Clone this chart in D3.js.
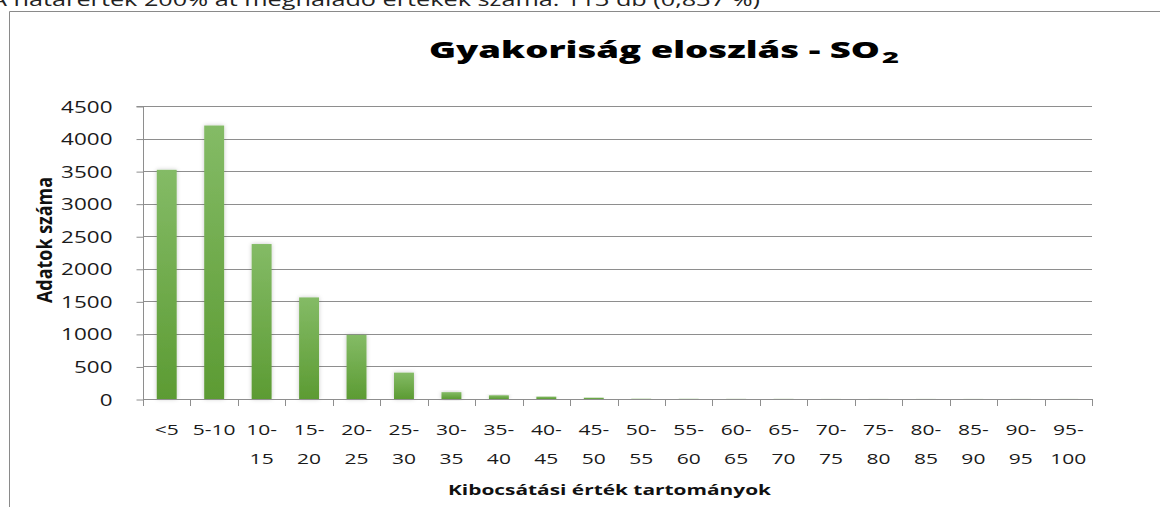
<!DOCTYPE html>
<html><head><meta charset="utf-8">
<script src="https://cdn.jsdelivr.net/npm/d3@7"></script>
<style>
html,body{margin:0;padding:0;background:#fff;overflow:hidden;}
svg{display:block;}
</style></head>
<body>
<svg id="chart" width="1160" height="507"></svg>
<script>
const categories = ["<5","5-10","10-15","15-20","20-25","25-30","30-35","35-40","40-45","45-50","50-55","55-60","60-65","65-70","70-75","75-80","80-85","85-90","90-95","95-100"];
const categoryLines = [["<5"],["5-10"],["10-","15"],["15-","20"],["20-","25"],["25-","30"],["30-","35"],["35-","40"],["40-","45"],["45-","50"],["50-","55"],["55-","60"],["60-","65"],["65-","70"],["70-","75"],["75-","80"],["80-","85"],["85-","90"],["90-","95"],["95-","100"]];
const counts = [3520,4200,2380,1560,985,405,105,57,36,20,4,3,2,2,1,1,1,1,1,1];
const yTicks = [0,500,1000,1500,2000,2500,3000,3500,4000,4500];
const titleText = "Gyakoriság eloszlás - SO";
const titleSub = "2";
const noteText = "A határérték 200% át meghaladó értékek száma: 113 db (0,837 %)";
const yTitle = "Adatok száma";
const xTitle = "Kibocsátási  érték tartományok";

(function(){
const svg = d3.select("#chart");
const FONT = "'Open Sans', 'DejaVu Sans', sans-serif";
const SX = 1.45;
const gridColor = "#8e8e8e";

const defs = svg.append("defs");
const grad = defs.append("linearGradient").attr("id","barGrad").attr("x1",0).attr("y1",0).attr("x2",0).attr("y2",1);
grad.append("stop").attr("offset","0%").attr("stop-color","#84bb66");
grad.append("stop").attr("offset","100%").attr("stop-color","#5c9b33");
const f = defs.append("filter").attr("id","shadow").attr("x","-50%").attr("y","-20%").attr("width","200%").attr("height","140%");
f.append("feDropShadow").attr("dx",0).attr("dy",0).attr("stdDeviation",2.2).attr("flood-color","#000").attr("flood-opacity",0.22);

// note text at top (clipped by the page edge, as in the source)
svg.append("text").attr("x",-9).attr("y",5.5)
  .attr("font-family",FONT).attr("font-size",18).attr("fill","#222")
  .attr("textLength",769).attr("lengthAdjust","spacingAndGlyphs")
  .text(noteText);

// frame
svg.append("path").attr("d","M9.5,507 V11.5 H1160").attr("fill","none").attr("stroke","#8a8a8a").attr("stroke-width",1);

// title
svg.append("text").attr("x",429).attr("y",58)
  .attr("font-family",FONT).attr("font-weight",800).attr("font-size",23.5).attr("fill","#000")
  .attr("textLength",451).attr("lengthAdjust","spacingAndGlyphs").text(titleText);
svg.append("text").attr("x",882).attr("y",63)
  .attr("font-family",FONT).attr("font-weight",800).attr("font-size",15).attr("fill","#000")
  .attr("textLength",17).attr("lengthAdjust","spacingAndGlyphs").text(titleSub);

const pLeft = 143, pRight = 1092, pTop = 106, pBottom = 399;
const y = d3.scaleLinear().domain([0,4500]).range([pBottom, pTop]);
const x = d3.scaleBand().domain(categories).range([pLeft,pRight]).paddingInner(0.58).paddingOuter(0.29);

// gridlines
svg.append("g").selectAll("line").data(yTicks.filter(d=>d>0)).join("line")
  .attr("x1",pLeft).attr("x2",pRight).attr("y1",d=>Math.round(y(d))+0.5).attr("y2",d=>Math.round(y(d))+0.5)
  .attr("stroke",gridColor).attr("stroke-width",1);

// y axis
const yAxis = svg.append("g").attr("transform",`translate(${pLeft+0.5},0.5)`)
  .call(d3.axisLeft(y).tickValues(yTicks).tickSize(7).tickPadding(24).tickFormat(d3.format("d")));
yAxis.selectAll("path,line").attr("stroke",gridColor);
yAxis.select(".domain").attr("d",`M-7,${y(4500)}H0V${y(0)}`);
yAxis.selectAll("text").attr("font-family",FONT).attr("font-size",15.5).attr("fill","#1a1a1a")
  .each(function(){ const t=d3.select(this); const xx=+t.attr("x"); t.attr("x",xx/SX).attr("transform",`scale(${SX},1)`); });
yAxis.selectAll("text").attr("dy","0.36em");

// bars
svg.append("g").selectAll("rect").data(categories).join("rect")
  .attr("x",d=>x(d)).attr("width",x.bandwidth())
  .attr("y",(d,i)=>y(counts[i])).attr("height",(d,i)=>pBottom - y(counts[i]))
  .attr("fill","url(#barGrad)").attr("filter","url(#shadow)");

// x axis line and ticks at boundaries
const boundaries = d3.range(categories.length+1).map(i => pLeft + i*(pRight-pLeft)/categories.length);
const xAxisG = svg.append("g");
xAxisG.append("line").attr("x1",pLeft).attr("x2",pRight).attr("y1",pBottom+0.5).attr("y2",pBottom+0.5).attr("stroke",gridColor);
xAxisG.selectAll("line.tk").data(boundaries).join("line").attr("class","tk")
  .attr("x1",d=>Math.round(d)+0.5).attr("x2",d=>Math.round(d)+0.5).attr("y1",pBottom).attr("y2",pBottom+7).attr("stroke",gridColor);

// x labels
const lbl = svg.append("g");
categories.forEach((c,i)=>{
  const cx = x(c) + x.bandwidth()/2;
  categoryLines[i].forEach((ln,j)=>{
    lbl.append("text").attr("transform",`translate(${cx},${435 + j*29}) scale(${SX},1)`)
      .attr("text-anchor","middle").attr("font-family",FONT).attr("font-size",14.5).attr("fill","#1a1a1a").text(ln);
  });
});

// axis titles
svg.append("text").attr("x",448).attr("y",494.5)
  .attr("font-family",FONT).attr("font-weight","bold").attr("font-size",14.5).attr("fill","#111")
  .attr("textLength",323).attr("lengthAdjust","spacingAndGlyphs").text(xTitle);
svg.append("text").attr("transform",`translate(52,240) scale(${SX},1) rotate(-90)`)
  .attr("text-anchor","middle").attr("font-family",FONT).attr("font-weight","bold").attr("font-size",14.5).attr("fill","#111")
  .attr("textLength",126).attr("lengthAdjust","spacingAndGlyphs").text(yTitle);
})();
</script>
</body></html>
